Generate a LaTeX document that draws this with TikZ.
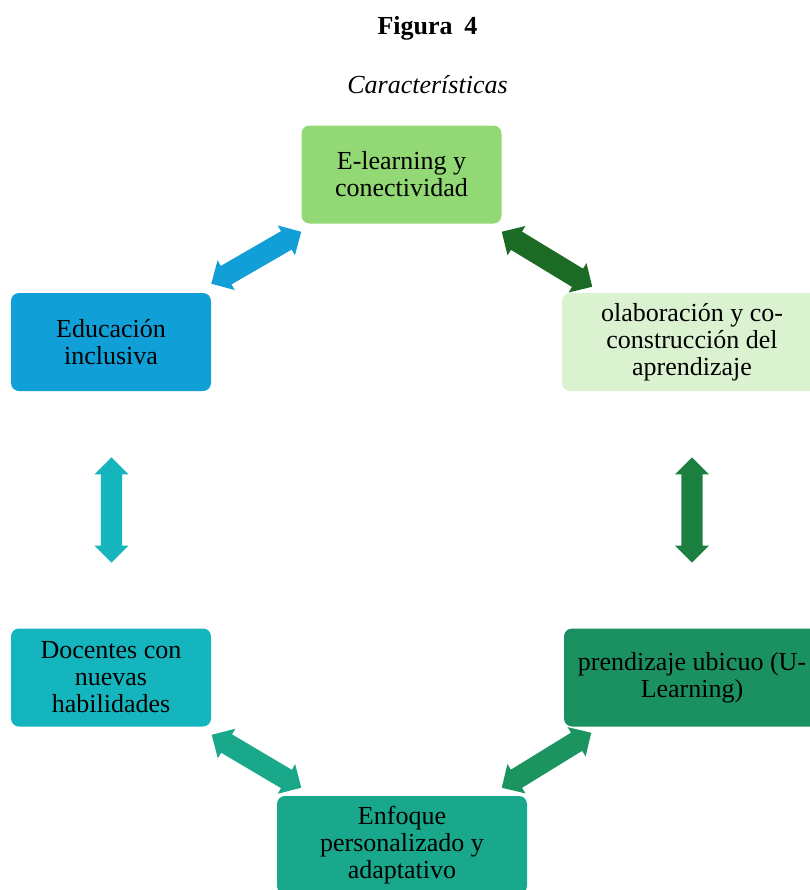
\documentclass[tikz,border=0pt]{standalone}
\usepackage{fontspec}
\setmainfont{Liberation Serif}
\usetikzlibrary{calc}

\definecolor{cTop}{RGB}{146,216,117}
\definecolor{cColab}{RGB}{218,242,208}
\definecolor{cEdu}{RGB}{17,159,216}
\definecolor{cDoc}{RGB}{20,181,190}
\definecolor{cUbic}{RGB}{27,145,97}
\definecolor{cEnf}{RGB}{25,168,139}
\definecolor{aBlue}{RGB}{18,159,216}
\definecolor{aDark}{RGB}{27,107,36}
\definecolor{aRight}{RGB}{27,127,63}
\definecolor{aLeft}{RGB}{21,181,190}
\definecolor{aBotL}{RGB}{25,168,138}
\definecolor{aBotR}{RGB}{28,148,96}

\tikzset{
  card/.style={rectangle, rounded corners=6pt, minimum height=73.5pt,
    align=center, inner sep=2pt, text=black,
    font=\fontsize{19.5}{20.25}\selectfont},
  cardtext/.style={yshift=-1.2pt},
}

% double-headed block arrow between two named points
\newcommand\ahl{12.9pt}   % head length
\newcommand\ahw{12.9pt}   % half head width
\newcommand\asw{8pt}      % half shaft width
\newcommand\blockarrow[3]{%
  \coordinate (ha) at ($(#1)!\ahl!(#2)$);
  \coordinate (hb) at ($(#2)!\ahl!(#1)$);
  \fill[#3] (#1) -- ($(ha)!\ahw!90:(#2)$) -- ($(ha)!\asw!90:(#2)$)
    -- ($(hb)!\asw!-90:(#1)$) -- ($(hb)!\ahw!-90:(#1)$) -- (#2)
    -- ($(hb)!\ahw!90:(#1)$) -- ($(hb)!\asw!90:(#1)$)
    -- ($(ha)!\asw!-90:(#2)$) -- ($(ha)!\ahw!-90:(#2)$) -- cycle;}

\begin{document}
\begin{tikzpicture}[x=0.75pt,y=-0.75pt]
\useasboundingbox (0,0) rectangle (810,890);
\clip (0,0) rectangle (810,890);

% heading
\node[font=\bfseries\fontsize{19.5}{20}\selectfont] (fig) at (427.5,28.5) {Figura\hspace{0.45em}4};
\node[font=\itshape\fontsize{19.5}{20}\selectfont] (cap) at (427.5,85) {Características};

% boxes
\node[card, fill=cTop, minimum width=150pt] (top) at (401.5,174.5) {E-learning y\\conectividad};
\node[card, fill=cEdu, minimum width=150pt] (edu) at (111,342) {Educación\\inclusiva};
\node[card, fill=cColab, minimum width=195pt] (colab) at (692,342) {olaboración y co-\\construcción del\\aprendizaje};
\node[card, fill=cDoc, minimum width=150pt] (doc) at (111,677.5) {Docentes con\\nuevas\\habilidades};
\node[card, fill=cUbic, minimum width=192pt] (ubic) at (692,677.5) {prendizaje ubicuo (U-\\Learning)};
\node[card, fill=cEnf, minimum width=187.5pt] (enf) at (402,845) {Enfoque\\personalizado y\\adaptativo};

% arrow end points
\coordinate (a1s) at ([shift={(0,-9)}]edu.north east);
\coordinate (a1e) at ([shift={(0,8)}]top.south west);
\coordinate (a2s) at ([shift={(0,8)}]top.south east);
\coordinate (a2e) at ([shift={(30.5,-6)}]colab.north west);
\coordinate (a3s) at ([shift={(0,66)}]colab.south);
\coordinate (a3e) at ([shift={(0,-65.5)}]ubic.north);
\coordinate (a4s) at ([shift={(0.5,66)}]edu.south);
\coordinate (a4e) at ([shift={(0.5,-65.5)}]doc.north);
\coordinate (a5s) at ([shift={(0.5,8)}]doc.south east);
\coordinate (a5e) at ([shift={(24.5,-8)}]enf.north west);
\coordinate (a6s) at ([shift={(27.5,6)}]ubic.south west);
\coordinate (a6e) at ([shift={(-25.5,-8)}]enf.north east);

% arrows
\blockarrow{a1s}{a1e}{aBlue}
\blockarrow{a2s}{a2e}{aDark}
\blockarrow{a3s}{a3e}{aRight}
\blockarrow{a4s}{a4e}{aLeft}
\blockarrow{a5s}{a5e}{aBotL}
\blockarrow{a6s}{a6e}{aBotR}
\end{tikzpicture}
\end{document}
